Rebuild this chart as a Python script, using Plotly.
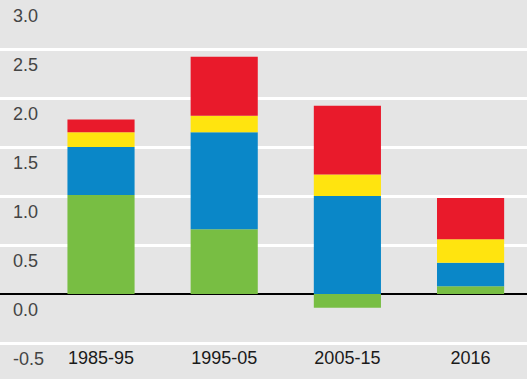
import plotly.graph_objects as go

categories = ["1985-95", "1995-05", "2005-15", "2016"]
green = [1.01, 0.66, -0.14, 0.08]
blue = [0.49, 0.99, 1.00, 0.24]
yellow = [0.15, 0.17, 0.22, 0.24]
red = [0.13, 0.60, 0.70, 0.42]
y_tickvals = [3.0, 2.5, 2.0, 1.5, 1.0, 0.5, 0.0, -0.5]
y_ticktext = ["3.0", "2.5", "2.0", "1.5", "1.0", "0.5", "0.0", "-0.5"]

series = [("green", green, "#78BE43"), ("blue", blue, "#0A87C8"),
          ("yellow", yellow, "#FFE40F"), ("red", red, "#E91A2B")]

fig = go.Figure()
for name, vals, col in series:
    fig.add_trace(go.Bar(x=list(range(len(categories))), y=vals, name=name,
                         marker=dict(color=col, line=dict(width=0)), width=0.545))

bg = "#E5E5E5"
fig.update_layout(
    width=527, height=379, barmode="relative", showlegend=False,
    paper_bgcolor=bg, plot_bgcolor=bg,
    margin=dict(l=0, r=0, t=0, b=34, pad=0, autoexpand=False),
    font=dict(family="Liberation Sans, Arial", size=18, color="#1a1a1a"),
    xaxis=dict(range=[-0.82, 3.458], tickvals=list(range(len(categories))),
               ticktext=categories, showgrid=False, zeroline=False,
               showline=False, ticks="", automargin=False),
    yaxis=dict(range=[-0.52, 3.0], tickvals=y_tickvals, ticktext=y_ticktext,
               showgrid=True, gridcolor="white", gridwidth=2.5,
               zeroline=True, zerolinecolor="black", zerolinewidth=2,
               ticks="", ticklabelposition="inside bottom", automargin=False,
               ticklabeloverflow="allow", ticklabelstandoff=10,
               ticklabelshift=3),
)
fig.write_html("out.html", config={"displayModeBar": False},
               post_script="document.body.style.margin='0';document.body.style.overflow='hidden';")
